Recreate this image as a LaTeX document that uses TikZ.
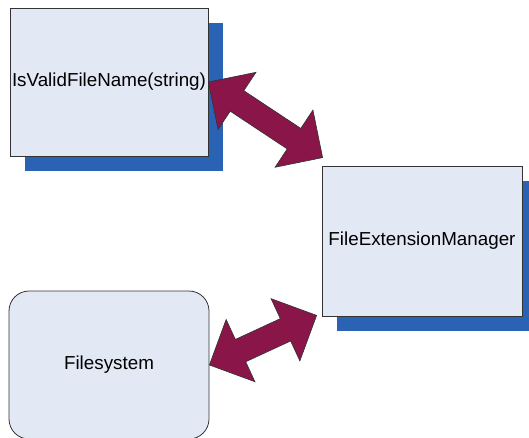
\documentclass[tikz,border=0pt]{standalone}
\usepackage{fontspec}
\setmainfont{Liberation Sans}
\usepackage{tikz}
\usetikzlibrary{shapes.arrows, shadows, calc}

\definecolor{boxfill}{RGB}{227,232,245}
\definecolor{shadowblue}{RGB}{43,99,180}
\definecolor{arrowred}{RGB}{138,21,72}

\tikzset{
	classbox/.style = {draw = black!80, line width = 0.8pt, fill = boxfill,
		minimum width = 198pt, minimum height = 148pt, inner sep = 0pt,
		font = \fontsize{18.8}{22}\selectfont},
	shadowed/.style = {drop shadow = {shadow xshift = 15pt, shadow yshift = -15pt,
		fill = shadowblue, opacity = 1}},
	fatarrow/.style = {double arrow, draw = black!80, line width = 0.6pt, fill = arrowred,
		inner xsep = 0pt, inner ysep = 12pt, double arrow head extend = 22pt,
		double arrow tip angle = 90}
}

\begin{document}
\begin{tikzpicture}[x = 1pt, y = -1pt]
\useasboundingbox (0, 0) rectangle (529, 438);
\node[classbox, shadowed] (valid) at (109, 82) {IsValidFileName(string)};
\node[classbox, shadowed, minimum width = 200pt, minimum height = 150pt]
	(manager) at (422, 241) {FileExtensionManager};
\node[classbox, rounded corners = 20pt, minimum width = 200pt] (fs) at (109, 365) {Filesystem};
\coordinate (managerup) at ($(manager.north west) + (1, -8)$);
\coordinate (managerdown) at ($(manager.south west) + (-5, -1)$);
%\draw[red] (valid.east) -- (managerup);
\path let \p1 = ($(managerup) - (valid.east)$) in
	node[fatarrow, rotate = {atan2(\y1, \x1)}, minimum height = {veclen(\x1, \y1)}]
	at ($(valid.east)!0.5!(managerup)$) {};
\path let \p1 = ($(managerdown) - (fs.east)$) in
	node[fatarrow, rotate = {atan2(\y1, \x1)}, minimum height = {veclen(\x1, \y1)}]
	at ($(fs.east)!0.5!(managerdown)$) {};
\end{tikzpicture}
\end{document}
